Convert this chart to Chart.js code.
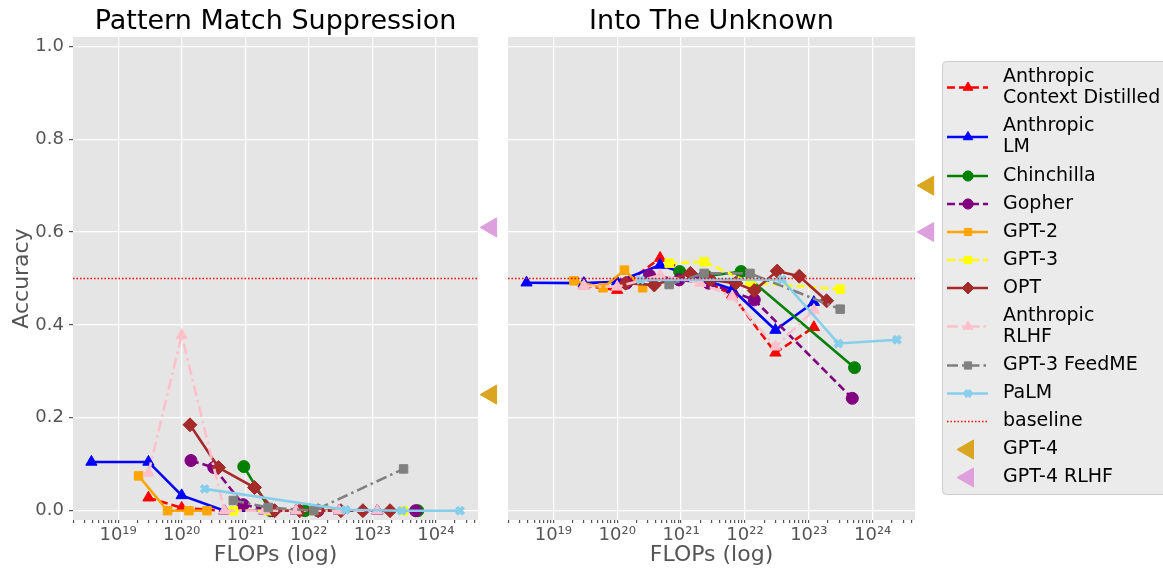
<!DOCTYPE html>
<html>
<head>
<meta charset="utf-8">
<script src="https://cdn.jsdelivr.net/npm/chart.js@4.4.1/dist/chart.umd.min.js"></script>
<style>
  body { margin: 0; background: #fff; width: 1163px; height: 569px; overflow: hidden; position: relative; }
  canvas { position: absolute; top: 0; }
  #left { left: 0; }
  #right { left: 500px; }
</style>
</head>
<body>
<canvas id="left" width="500" height="569"></canvas>
<canvas id="right" width="663" height="569"></canvas>
<script>
Chart.defaults.font.family = "'DejaVu Sans', sans-serif";
Chart.defaults.animation = false;

// x values (FLOPs)
const anthropicLmFlops = [3.8e18, 3.0e19, 1.0e20, 4.7e20, 2.0e21, 6.3e21, 3.0e22, 1.2e23];
const anthropicFlops = [3.0e19, 1.0e20, 4.7e20, 2.0e21, 6.3e21, 3.0e22, 1.2e23];
const chinchillaFlops = [9.5e20, 2.5e21, 8.7e21, 5.2e23];
const gopherFlops = [1.4e20, 3.2e20, 9.3e20, 2.7e21, 1.4e22, 4.8e23];
const gpt2Flops = [2.1e19, 6.0e19, 1.3e20, 2.5e20];
const gpt3Flops = [6.5e20, 2.3e21, 1.2e22, 3.1e23];
const optFlops = [1.35e20, 3.8e20, 1.4e21, 2.9e21, 7.2e21, 1.4e22, 3.2e22, 7.1e22, 1.9e23];
const palmFlops = [2.3e20, 3.8e22, 2.9e23, 2.4e24];
const gpt4Flops = [7.4e24];

// Pattern Match Suppression
const pmsContext = [0.028, 0.006, 0, 0, 0, 0, 0];
const pmsLm = [0.105, 0.105, 0.033, 0, 0, 0, 0, 0];
const pmsChinchilla = [0.095, 0, 0, 0];
const pmsGopher = [0.108, 0.093, 0.013, 0, 0, 0];
const pmsGpt2 = [0.075, 0, 0, 0];
const pmsGpt3 = [0, 0, 0, 0];
const pmsOpt = [0.185, 0.093, 0.05, 0, 0, 0, 0, 0, 0];
const pmsRlhf = [0.081, 0.378, 0, 0, 0, 0, 0];
const pmsFeedme = [0.022, 0.007, 0, 0.09];
const pmsPalm = [0.047, 0.002, 0, 0];
const pmsGpt4 = [0.25];
const pmsGpt4Rlhf = [0.61];

// Into The Unknown
const ituContext = [0.485, 0.475, 0.544, 0.50, 0.465, 0.34, 0.395];
const ituLm = [0.491, 0.49, 0.493, 0.529, 0.50, 0.477, 0.389, 0.449];
const ituChinchilla = [0.515, 0.505, 0.515, 0.308];
const ituGopher = [0.49, 0.507, 0.497, 0.49, 0.454, 0.242];
const ituGpt2 = [0.495, 0.48, 0.518, 0.48];
const ituGpt3 = [0.533, 0.536, 0.491, 0.477];
const ituOpt = [0.49, 0.486, 0.511, 0.497, 0.49, 0.474, 0.516, 0.505, 0.452];
const ituRlhf = [0.484, 0.482, 0.507, 0.49, 0.461, 0.353, 0.432];
const ituFeedme = [0.487, 0.511, 0.511, 0.434];
const ituPalm = [0.497, 0.498, 0.36, 0.368];
const ituGpt4 = [0.70];
const ituGpt4Rlhf = [0.60];

const baselineValue = 0.5;
const yTicks = [0, 0.2, 0.4, 0.6, 0.8, 1.0];
const xMin = 1.95e18, xMax = 4.6e24;

const sup = { '0': '⁰', '1': '¹', '2': '²', '3': '³', '4': '⁴', '5': '⁵', '6': '⁶', '7': '⁷', '8': '⁸', '9': '⁹' };

function isDecade(v) {
  if (!v) return false;
  const l = Math.log10(v);
  return Math.abs(l - Math.round(l)) < 1e-6;
}

function decadeLabel(v) {
  const p = String(Math.round(Math.log10(v)));
  return '10' + p.split('').map(c => sup[c]).join('');
}

function logTicks() {
  const t = [];
  for (let k = 18; k <= 24; k++) {
    for (let m = 1; m <= 9; m++) {
      const v = m * Math.pow(10, k);
      if (v >= xMin && v <= xMax) t.push({ value: v });
    }
  }
  return t;
}

function pts(xs, ys) {
  return xs.map((x, i) => ({ x: x, y: ys[i] }));
}

function line(label, color, style, dash, xs, ys, radius, extra) {
  return Object.assign({
    label: label,
    data: pts(xs, ys),
    borderColor: color,
    backgroundColor: color,
    pointBackgroundColor: color,
    pointBorderColor: color,
    pointStyle: style,
    pointRadius: radius,
    pointBorderWidth: 1,
    borderDash: dash,
    borderWidth: 2.6,
    tension: 0,
    fill: false
  }, extra || {});
}

const DASH = [8, 4];
const DASHDOT = [11, 4, 2.5, 4];

function makeDatasets(v) {
  // markers sit just right of the axes, so widen the in-area margin via hover radius
  const outside = { showLine: false, clip: false, pointRotation: 270, pointHoverRadius: 24 };
  const ds = [
    line('Anthropic\nContext Distilled', 'red', 'triangle', DASH, anthropicFlops, v.context, 6.5),
    line('Anthropic\nLM', 'blue', 'triangle', [], anthropicLmFlops, v.lm, 6.5),
    line('Chinchilla', 'green', 'circle', [], chinchillaFlops, v.chinchilla, 6),
    line('Gopher', 'purple', 'circle', DASH, gopherFlops, v.gopher, 6),
    line('GPT-2', 'orange', 'rect', [], gpt2Flops, v.gpt2, 6),
    line('GPT-3', 'yellow', 'rect', DASH, gpt3Flops, v.gpt3, 6),
    line('OPT', 'brown', 'rectRot', [], optFlops, v.opt, 7),
    line('Anthropic\nRLHF', 'pink', 'triangle', DASHDOT, anthropicFlops, v.rlhf, 6.5),
    line('GPT-3 FeedME', 'gray', 'rect', DASHDOT, gpt3Flops, v.feedme, 6),
    line('PaLM', 'skyblue', 'crossRot', [], palmFlops, v.palm, 5, { pointBorderWidth: 4 }),
    line('baseline', 'red', false, [1.5, 2], [xMin, xMax], [baselineValue, baselineValue], 0, { borderWidth: 1.3 }),
    line('GPT-4', 'goldenrod', 'triangle', [], gpt4Flops, v.gpt4, 11, outside),
    line('GPT-4 RLHF', 'plum', 'triangle', [], gpt4Flops, v.gpt4Rlhf, 11, outside)
  ];
  ds.forEach((d, i) => { d.order = 50 - i; });
  return ds;
}

const background = {
  id: 'background',
  beforeDraw(chart) {
    const a = chart.chartArea, ctx = chart.ctx;
    ctx.save();
    ctx.fillStyle = '#E5E5E5';
    ctx.fillRect(a.left, a.top, a.right - a.left, a.bottom - a.top);
    ctx.restore();
  }
};

const panelTitle = {
  id: 'panelTitle',
  afterDraw(chart, args, opts) {
    const a = chart.chartArea, ctx = chart.ctx;
    ctx.save();
    ctx.fillStyle = '#000';
    ctx.font = "27px 'DejaVu Sans', sans-serif";
    ctx.textAlign = 'center';
    ctx.textBaseline = 'middle';
    ctx.fillText(opts.text, (a.left + a.right) / 2, 22);
    ctx.restore();
  }
};

const sideLegend = {
  id: 'sideLegend',
  afterDraw(chart) {
    const ctx = chart.ctx;
    ctx.save();
    ctx.beginPath();
    ctx.roundRect(442.5, 61.5, 225, 433, 4);
    ctx.fillStyle = '#EBEBEB';
    ctx.fill();
    ctx.strokeStyle = '#CCCCCC';
    ctx.lineWidth = 1;
    ctx.stroke();
    ctx.font = "19px 'DejaVu Sans', sans-serif";
    ctx.textBaseline = 'middle';
    let y = 77;
    chart.data.datasets.forEach(d => {
      const lines = d.label.split('\n');
      const mid = y + (lines.length - 1) * 10.5;
      if (d.showLine !== false) {
        ctx.beginPath();
        ctx.setLineDash(d.borderDash);
        ctx.strokeStyle = d.borderColor;
        ctx.lineWidth = d.borderWidth;
        ctx.moveTo(447, mid);
        ctx.lineTo(488, mid);
        ctx.stroke();
        ctx.setLineDash([]);
      }
      if (d.pointStyle) {
        ctx.fillStyle = d.backgroundColor;
        ctx.strokeStyle = d.borderColor;
        ctx.lineWidth = d.pointBorderWidth;
        const r = d.pointRadius > 8 ? d.pointRadius : d.pointRadius * 0.85;
        Chart.helpers.drawPoint(ctx, { pointStyle: d.pointStyle, radius: r, rotation: d.pointRotation || 0, borderWidth: d.pointBorderWidth }, 468, mid);
      }
      ctx.fillStyle = '#000';
      lines.forEach((t, i) => ctx.fillText(t, 503, y + i * 21));
      y += lines.length === 2 ? 49.5 : 28;
    });
    ctx.restore();
  }
};

function xAxis() {
  return {
    type: 'logarithmic',
    min: xMin,
    max: xMax,
    afterBuildTicks: s => { s.ticks = logTicks(); },
    afterFit: s => { s.height = 49; },
    border: { display: false },
    grid: {
      color: c => (c.tick && isDecade(c.tick.value)) ? '#FFFFFF' : 'rgba(0,0,0,0)',
      lineWidth: 1.2,
      tickColor: '#555555',
      tickLength: 3
    },
    ticks: {
      autoSkip: false,
      maxRotation: 0,
      minRotation: 0,
      color: '#555555',
      font: { size: 18 },
      padding: 2,
      callback: v => isDecade(v) ? decadeLabel(v) : ''
    },
    title: { display: true, text: 'FLOPs (log)', color: '#555555', font: { size: 22 }, padding: { top: 0, bottom: 1 } }
  };
}

function yAxis(first) {
  return {
    min: -0.02,
    max: 1.02,
    afterBuildTicks: s => { s.ticks = yTicks.map(v => ({ value: v })); },
    afterFit: s => { s.width = first ? 73 : 8; },
    border: { display: false },
    grid: { color: '#FFFFFF', lineWidth: 1.2, tickColor: '#555555', tickLength: 4, drawTicks: first },
    ticks: { display: first, color: '#555555', font: { size: 18 }, padding: 5, callback: v => v.toFixed(1) },
    title: { display: first, text: 'Accuracy', color: '#555555', font: { size: 22 }, padding: { top: 9, bottom: 0 } }
  };
}

function makeChart(id, title, values, first) {
  const plugins = [background, panelTitle];
  if (!first) plugins.push(sideLegend);
  return new Chart(document.getElementById(id), {
    type: 'line',
    data: { datasets: makeDatasets(values) },
    options: {
      responsive: false,
      layout: { autoPadding: false, padding: { top: 37, right: first ? 22 : 248, left: 0, bottom: 0 } },
      scales: { x: xAxis(), y: yAxis(first) },
      plugins: { legend: { display: false }, tooltip: { enabled: false }, panelTitle: { text: title } }
    },
    plugins: plugins
  });
}

makeChart('left', 'Pattern Match Suppression', {
  context: pmsContext, lm: pmsLm, chinchilla: pmsChinchilla, gopher: pmsGopher, gpt2: pmsGpt2,
  gpt3: pmsGpt3, opt: pmsOpt, rlhf: pmsRlhf, feedme: pmsFeedme, palm: pmsPalm,
  gpt4: pmsGpt4, gpt4Rlhf: pmsGpt4Rlhf
}, true);

makeChart('right', 'Into The Unknown', {
  context: ituContext, lm: ituLm, chinchilla: ituChinchilla, gopher: ituGopher, gpt2: ituGpt2,
  gpt3: ituGpt3, opt: ituOpt, rlhf: ituRlhf, feedme: ituFeedme, palm: ituPalm,
  gpt4: ituGpt4, gpt4Rlhf: ituGpt4Rlhf
}, false);
</script>
</body>
</html>
